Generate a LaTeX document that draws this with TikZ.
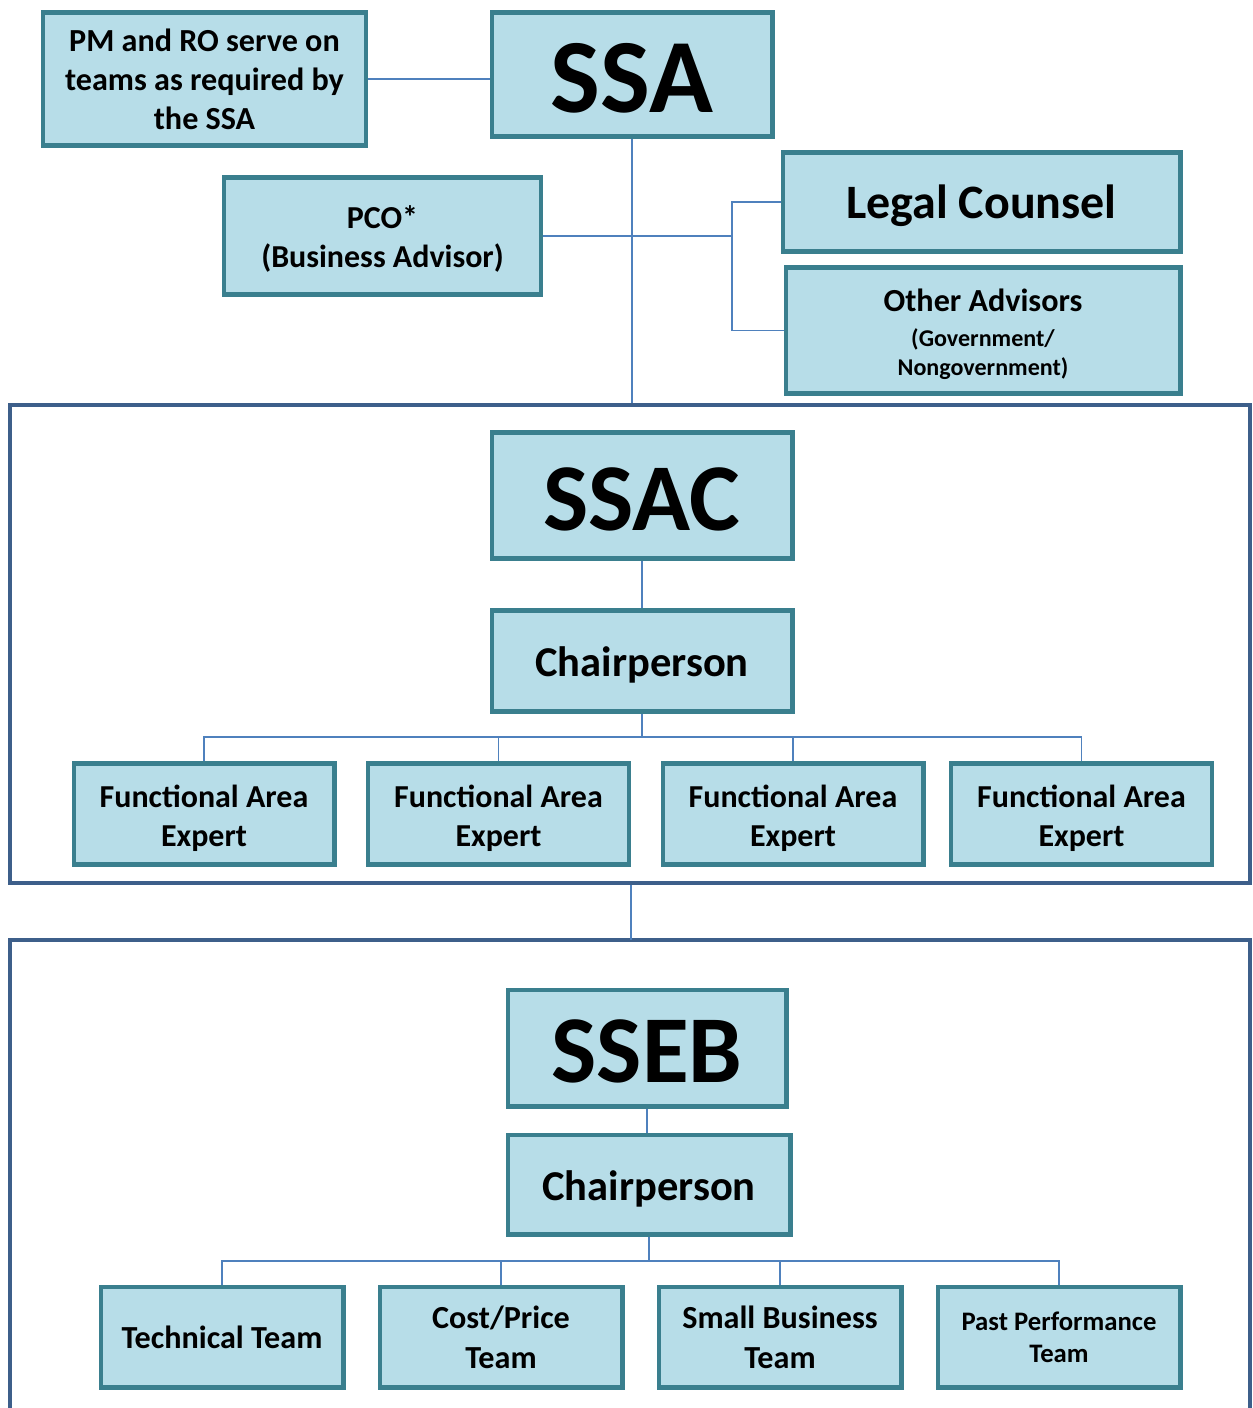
\documentclass[tikz,border=0pt]{standalone}
\usepackage{fontspec}
\setmainfont{Carlito}
\usepackage{tikz}

\definecolor{boxfill}{RGB}{183,221,232}
\definecolor{boxline}{RGB}{58,127,142}
\definecolor{linkblue}{RGB}{79,129,189}
\definecolor{frameblue}{RGB}{61,95,138}

% lowers the text in a box a little, as the original does
\newcommand{\dropby}[1][l]{\vrule height\dimexpr\fontcharht\font`#1+4.5pt\relax depth 0pt width 0pt}
\newcommand{\smallline}{\fontsize{13.7}{16.4}\selectfont}

\tikzset{
  box/.style={draw=boxline, fill=boxfill, line width=2.3pt, inner sep=0pt,
    align=center, font=\bfseries},
  lowbox/.style={box, execute at begin node={\dropby}},
  capsbox/.style={box, execute at begin node={\dropby[S]}},
  link/.style={draw=linkblue, line width=0.9pt},
  frame/.style={draw=frameblue, line width=2.2pt}
}

\begin{document}
\begin{tikzpicture}[x=0.02cm, y=-0.02cm]
      \useasboundingbox (0,0) rectangle (1252,1408);

      % top level
      \node[box, minimum width=6.48cm, minimum height=2.66cm, font=\bfseries\fontsize{18.3}{22.2}\selectfont](pm) at (204.5,79) {PM and RO serve on\\teams as required by\\the SSA};
      \node[capsbox, minimum width=5.62cm, minimum height=2.48cm, font=\bfseries\fontsize{60}{60}\selectfont](ssa) at (632,74.5) {SSA};
      \node[box, minimum width=6.36cm, minimum height=2.34cm, font=\bfseries\fontsize{18.2}{22.2}\selectfont](pco) at (382.5,236) {\dropby[S]PCO*\\(Business Advisor)};
      \node[lowbox, minimum width=7.96cm, minimum height=1.98cm, font=\bfseries\fontsize{27.3}{30}\selectfont](legal) at (981.5,202) {Legal Counsel};
      \node[box, minimum width=7.90cm, minimum height=2.52cm, font=\bfseries\fontsize{18.3}{19.8}\selectfont](other) at (983,330.5) {\dropby Other Advisors\\\smallline(Government/\\[-3.4pt]\smallline Nongovernment)};

      % SSAC frame
      \node[frame, minimum width=24.8cm, minimum height=9.56cm, inner sep=0pt](ssacframe) at (630,644) {};
      \node[capsbox, minimum width=6.02cm, minimum height=2.52cm, font=\bfseries\fontsize{54.5}{54.5}\selectfont](ssac) at (642,495.5) {SSAC};
      \node[lowbox, minimum width=6.02cm, minimum height=2.02cm, font=\bfseries\fontsize{24.2}{26}\selectfont](chair1) at (642,661) {Chairperson};
      \node[box, minimum width=5.22cm, minimum height=2.02cm, font=\bfseries\fontsize{18.2}{22.2}\selectfont](fa1) at (204,814) {\dropby Functional Area\\Expert};
      \node[box, minimum width=5.22cm, minimum height=2.02cm, font=\bfseries\fontsize{18.2}{22.2}\selectfont](fa2) at (498.5,814) {\dropby Functional Area\\Expert};
      \node[box, minimum width=5.22cm, minimum height=2.02cm, font=\bfseries\fontsize{18.2}{22.2}\selectfont](fa3) at (793,814) {\dropby Functional Area\\Expert};
      \node[box, minimum width=5.22cm, minimum height=2.02cm, font=\bfseries\fontsize{18.2}{22.2}\selectfont](fa4) at (1081.5,814) {\dropby Functional Area\\Expert};

      % SSEB frame (runs off the bottom)
      \coordinate (ssebtop) at (631,940);
      \draw[frame] (10,1420) -- (10,940) -- (1250,940) -- (1250,1420);
      \node[capsbox, minimum width=5.58cm, minimum height=2.34cm, font=\bfseries\fontsize{54.5}{54.5}\selectfont](sseb) at (647,1048) {SSEB};
      \node[lowbox, minimum width=5.66cm, minimum height=2.00cm, font=\bfseries\fontsize{24.2}{26}\selectfont](chair2) at (649,1184.5) {Chairperson};
      \node[box, minimum width=4.86cm, minimum height=2.02cm, font=\bfseries\fontsize{18.3}{22.5}\selectfont](tech) at (222,1337) {Technical Team};
      \node[box, minimum width=4.86cm, minimum height=2.02cm, font=\bfseries\fontsize{18.3}{22.7}\selectfont](cost) at (501,1337) {Cost/Price\\Team};
      \node[box, minimum width=4.86cm, minimum height=2.02cm, font=\bfseries\fontsize{18.3}{22.7}\selectfont](small) at (780,1337) {Small Business\\Team};
      \node[box, minimum width=4.86cm, minimum height=2.02cm, font=\bfseries\fontsize{15.2}{18.2}\selectfont](past) at (1059,1337) {Past Performance\\Team};

      % connectors
      \coordinate (adv) at (732,236);
      \coordinate (bus1) at (642,737);
      \coordinate (bus2) at (649,1261);

      \draw[link] (pm.east) -- (pm.east -| ssa.west);
      \draw[link] (ssa.south) -- (ssa.south |- ssacframe.north);
      \draw[link] (pco.east) -- (adv);
      \draw[link] (legal.west) -- (legal.west -| adv) -- (other.west -| adv) -- (other.west);
      \draw[link] (ssac.south) -- (chair1.north);
      \draw[link] (chair1.south) -- (bus1);
      \draw[link] (fa1.north) |- (bus1) -| (fa4.north);
      \draw[link] (fa2.north) -- (fa2.north |- bus1);
      \draw[link] (fa3.north) -- (fa3.north |- bus1);
      \draw[link] (ssebtop |- ssacframe.south) -- (ssebtop);
      \draw[link] (sseb.south) -- (sseb.south |- chair2.north);
      \draw[link] (chair2.south) -- (bus2);
      \draw[link] (tech.north) |- (bus2) -| (past.north);
      \draw[link] (cost.north) -- (cost.north |- bus2);
      \draw[link] (small.north) -- (small.north |- bus2);
\end{tikzpicture}
\end{document}
